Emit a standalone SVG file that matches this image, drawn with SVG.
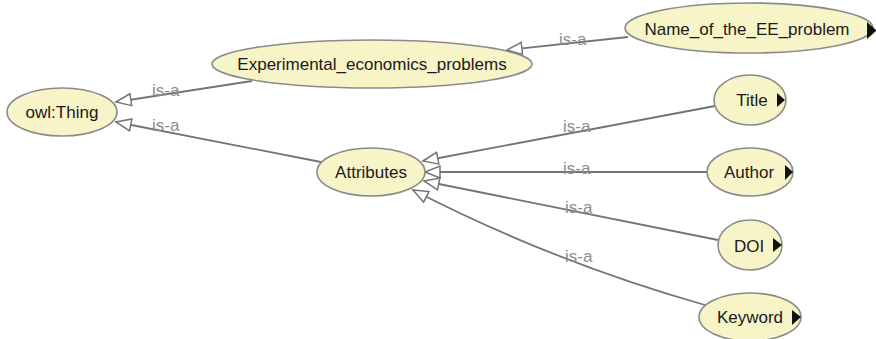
<svg xmlns="http://www.w3.org/2000/svg" width="876" height="339" viewBox="0 0 876 339">
  <style>
    .node ellipse { fill: #f7f4c8; stroke: #8a8a8a; stroke-width: 1.6; }
    .node text { font-family: "Liberation Sans", Arial, sans-serif; font-size: 17px; fill: #1a1a1a; text-anchor: middle; }
    .node .more { fill: #111; }
    .edge { fill: none; stroke: #747474; stroke-width: 1.8; marker-end: url(#isa); }
    .lbl { font-family: "Liberation Sans", Arial, sans-serif; font-size: 17px; fill: #8c8c8c; }
  </style>
  <defs>
    <marker id="isa" markerUnits="userSpaceOnUse" markerWidth="18" markerHeight="16" refX="16" refY="7" orient="auto" viewBox="0 0 18 14">
      <path d="M1,1 L16,7 L1,13 Z" fill="#ffffff" stroke="#747474" stroke-width="1.5"/>
    </marker>
  </defs>
  <rect width="876" height="339" fill="#ffffff"/>

  <!-- subclass links -->
  <g id="connectors">
    <path class="edge" d="M252,81 L116,102"/>
    <path class="edge" d="M321,162 L116,122"/>
    <path class="edge" d="M628,37 L507,50"/>
    <path class="edge" d="M715,106 L423,161"/>
    <path class="edge" d="M708,172 L425,172"/>
    <path class="edge" d="M718,240 L424,181"/>
    <path class="edge" d="M705,305 Q553,262 413,190"/>
    <text class="lbl" x="152" y="96">is-a</text>
    <text class="lbl" x="152" y="131">is-a</text>
    <text class="lbl" x="559" y="45">is-a</text>
    <text class="lbl" x="563" y="132">is-a</text>
    <text class="lbl" x="563" y="174">is-a</text>
    <text class="lbl" x="565" y="213">is-a</text>
    <text class="lbl" x="565" y="262">is-a</text>
  </g>

  <g id="node-thing" class="node">
    <ellipse cx="62" cy="112" rx="55" ry="24"/>
    <text x="62" y="118">owl:Thing</text>
  </g>
  <g id="node-exp" class="node">
    <ellipse cx="372" cy="64" rx="160" ry="24"/>
    <text x="372" y="70">Experimental_economics_problems</text>
  </g>
  <g id="node-name" class="node">
    <ellipse cx="749" cy="28" rx="124" ry="25"/>
    <text x="747" y="35">Name_of_the_EE_problem</text>
    <path class="more" d="M867,22 L876,30 L876,31 L867,39 Z"/>
  </g>
  <g id="node-attributes" class="node">
    <ellipse cx="371" cy="172" rx="54" ry="24"/>
    <text x="371" y="178">Attributes</text>
  </g>
  <g id="node-title" class="node">
    <ellipse cx="750" cy="100" rx="36" ry="25"/>
    <text x="752" y="106">Title</text>
    <path class="more" d="M777,93 L785,100 L777,107 Z"/>
  </g>
  <g id="node-author" class="node">
    <ellipse cx="750" cy="172" rx="43" ry="24"/>
    <text x="749" y="178">Author</text>
    <path class="more" d="M785,165 L793,172 L785,180 Z"/>
  </g>
  <g id="node-doi" class="node">
    <ellipse cx="750" cy="245" rx="32" ry="25"/>
    <text x="749" y="252">DOI</text>
    <path class="more" d="M773,238 L782,245 L773,252 Z"/>
  </g>
  <g id="node-keyword" class="node">
    <ellipse cx="750" cy="317" rx="51" ry="24"/>
    <text x="750" y="323">Keyword</text>
    <path class="more" d="M792,310 L801,317 L792,325 Z"/>
  </g>
</svg>
